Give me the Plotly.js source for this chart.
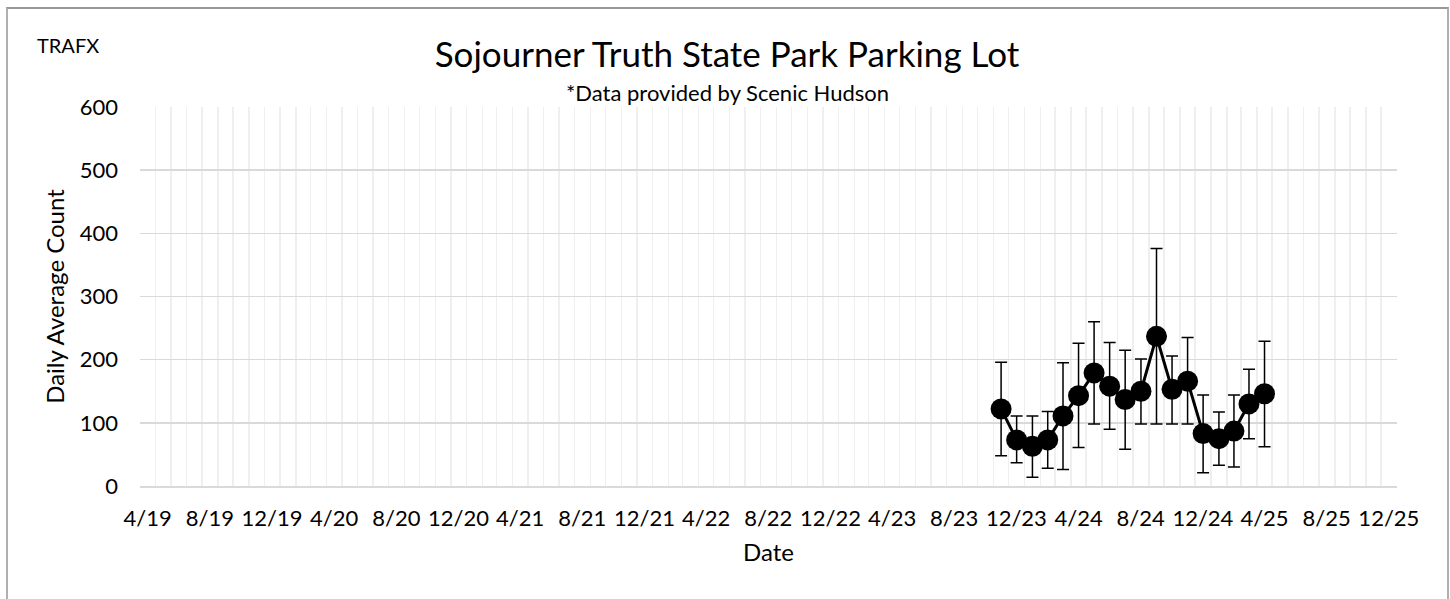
<!DOCTYPE html>
<html>
<head>
<meta charset="utf-8">
<script src="https://cdn.plot.ly/plotly-3.0.1.min.js"></script>
<style>
  html, body { margin: 0; padding: 0; background: #fff; }
  #wrap { position: relative; width: 1450px; height: 599px; }
  #chart { width: 1450px; height: 599px; }
  #frame { position: absolute; left: 6px; top: 7px; width: 1439px; height: 600px;
           border: 2px solid #b0b0b0; border-top-color: #999; pointer-events: none; }
</style>
</head>
<body>
<div id="wrap">
  <div id="chart"></div>
  <div id="frame"></div>
</div>
<script>
// ---- data ----
const months = ['2023-11','2023-12','2024-01','2024-02','2024-03','2024-04','2024-05','2024-06','2024-07',
                '2024-08','2024-09','2024-10','2024-11','2024-12','2025-01','2025-02','2025-03','2025-04'];
const dailyAvg = [122, 73, 63, 73, 111, 143, 179, 158, 137, 150, 237, 153, 166, 83, 75, 87, 130, 146];
const upperBound = [196, 111, 111, 118, 195, 226, 260, 227, 215, 201, 376, 206, 235, 144, 117, 144, 185, 229];
const lowerBound = [48, 37, 14, 28, 26, 61, 98, 90, 58, 98, 98, 98, 98, 21, 33, 30, 75, 62];
const tickLabels = ['4/19','8/19','12/19','4/20','8/20','12/20','4/21','8/21','12/21','4/22','8/22',
                    '12/22','4/23','8/23','12/23','4/24','8/24','12/24','4/25','8/25','12/25'];

const FONT = 'Lato, "Open Sans", sans-serif';

const tickVals = tickLabels.map(function (t) {
  const p = t.split('/');
  const m = p[0].length === 1 ? '0' + p[0] : p[0];
  return '20' + p[1] + '-' + m + '-16';
});

const trace = {
  type: 'scatter',
  mode: 'lines+markers',
  x: months,
  y: dailyAvg,
  xperiod: 'M1',
  xperiodalignment: 'middle',
  line: { color: '#000000', width: 3 },
  marker: { color: '#000000', size: 21 },
  error_y: {
    type: 'data',
    symmetric: false,
    array: upperBound.map(function (u, i) { return u - dailyAvg[i]; }),
    arrayminus: lowerBound.map(function (l, i) { return dailyAvg[i] - l; }),
    color: '#000000',
    thickness: 1.5,
    width: 6
  },
  hoverinfo: 'x+y'
};

const layout = {
  width: 1450,
  height: 599,
  paper_bgcolor: '#ffffff',
  plot_bgcolor: '#ffffff',
  margin: { l: 140, r: 53, t: 107, b: 113 },
  showlegend: false,
  font: { family: FONT, color: '#000000' },
  title: {
    text: 'Sojourner Truth State Park Parking Lot',
    font: { family: FONT, size: 35, color: '#000000' },
    x: 0.5 - (768.5 - 727) / 1257, xref: 'paper', xanchor: 'center',
    y: 1 - 55 / 599, yref: 'container', yanchor: 'middle'
  },
  xaxis: {
    type: 'date',
    range: ['2019-04-01', '2026-01-01'],
    tickmode: 'array',
    tickvals: tickVals,
    ticktext: tickLabels,
    ticks: '',
    ticklabelstandoff: 12,
    tickfont: { family: FONT, size: 22, color: '#000000' },
    showgrid: false,
    showline: true,
    linecolor: '#d9d9d9',
    linewidth: 1.5,
    zeroline: false,
    minor: { dtick: 'M1', tick0: '2019-04-01', showgrid: true, gridcolor: '#efefef', gridwidth: 1.5, ticks: '' },
    title: { text: 'Date', font: { family: FONT, size: 24, color: '#000000' }, standoff: 14 },
    fixedrange: true
  },
  yaxis: {
    range: [0, 600],
    dtick: 100,
    tick0: 0,
    ticks: '',
    ticklabelstandoff: 21,
    tickfont: { family: FONT, size: 22, color: '#000000' },
    showgrid: true,
    gridcolor: '#d9d9d9',
    gridwidth: 1.5,
    zeroline: false,
    showline: false,
    title: { text: 'Daily Average Count', font: { family: FONT, size: 24, color: '#000000' }, standoff: 8 },
    fixedrange: true
  },
  annotations: [
    {
      text: '*Data provided by Scenic Hudson',
      xref: 'paper', yref: 'paper', x: 0.5 - (768.5 - 727) / 1257, y: (486 - 92) / 379,
      xanchor: 'center', yanchor: 'middle', showarrow: false,
      font: { family: FONT, size: 22, color: '#000000' }
    },
    {
      text: 'TRAFX',
      xref: 'paper', yref: 'paper', x: (35 - 140) / 1257, y: (486 - 45) / 379,
      xanchor: 'left', yanchor: 'middle', showarrow: false,
      font: { family: FONT, size: 20, color: '#000000' }
    }
  ]
};

Plotly.newPlot('chart', [trace], layout, { staticPlot: true, displayModeBar: false });
</script>
</body>
</html>
